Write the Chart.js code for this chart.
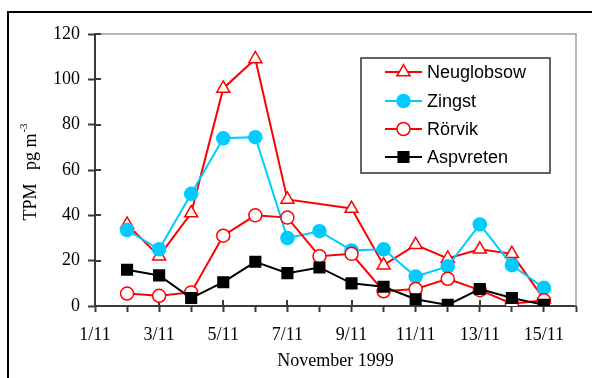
<!DOCTYPE html>
<html>
<head>
<meta charset="utf-8">
<script src="https://cdn.jsdelivr.net/npm/chart.js@4.4.1/dist/chart.umd.min.js"></script>
<style>
  html, body { margin: 0; padding: 0; background: #fff; overflow: hidden; }
  #wrap { position: relative; width: 592px; height: 378px; }
  #frame { position: absolute; left: 7px; top: 11px; width: 700px; height: 500px; border: 2px solid #000; box-sizing: border-box; }
  #c { position: absolute; left: 0; top: 0; }
</style>
</head>
<body>
<div id="wrap">
  <div id="frame"></div>
  <canvas id="c" width="592" height="378"></canvas>
</div>
<script>
// Sampling days (November 1999)
const days = [2, 3, 4, 5, 6, 7, 8, 9, 10, 11, 12, 13, 14, 15];

// TPM concentrations, pg m-3 (null = no sample)
const neuglobsow = [36, 22, 41, 96, 109, 47, null, 43, 18, 27, 21, 25, 23, 3];
const zingst     = [33.5, 25, 49.5, 74, 74.5, 30, 33, 24.5, 25, 13, 17.5, 36, 18, 8];
const rorvik     = [5.5, 4.5, 6, 31, 40, 39, 22, 23, 6.5, 7.5, 12, 7, 1, 2.5];
const aspvreten  = [16, 13.5, 3.5, 10.5, 19.5, 14.5, 17, 10, 8.5, 3, 0.5, 7.5, 3.5, 0.5];

const seriesNames = ['Neuglobsow', 'Zingst', 'R\u00f6rvik', 'Aspvreten'];

// Axis ranges / tick labels
const xMin = 1, xMax = 16;
const yMin = 0, yMax = 120, yStep = 20;
const xTickLabel = v => (v % 2 === 1 && v <= 15) ? v + '/11' : '';
const xTitle = 'November 1999';
const yTitleMain = 'TPM   pg m';
const yTitleSup = '-3';

const RED = '#ff0000', CYAN = '#00ccff', BLACK = '#000000';
const AXIS = '#3a3a3a';
const SERIF = '"Liberation Serif", "Times New Roman", serif';
const SANS = '"Liberation Sans", Arial, sans-serif';

const toPoints = vals => days.map((d, i) => ({ x: d, y: vals[i] }));

const datasets = [
  { label: seriesNames[0], data: toPoints(neuglobsow), borderColor: RED, backgroundColor: '#fff',
    pointStyle: 'triangle', pointRadius: 7.5, pointBorderColor: RED, pointBackgroundColor: '#fff', order: 4 },
  { label: seriesNames[1], data: toPoints(zingst), borderColor: CYAN, backgroundColor: CYAN,
    pointStyle: 'circle', pointRadius: 6.5, pointBorderColor: CYAN, pointBackgroundColor: CYAN, order: 3 },
  { label: seriesNames[2], data: toPoints(rorvik), borderColor: RED, backgroundColor: '#fff',
    pointStyle: 'circle', pointRadius: 6.5, pointBorderColor: RED, pointBackgroundColor: '#fff', order: 2 },
  { label: seriesNames[3], data: toPoints(aspvreten), borderColor: BLACK, backgroundColor: BLACK,
    pointStyle: 'rect', pointRadius: 7.5, pointBorderColor: BLACK, pointBackgroundColor: BLACK, order: 1 }
].map(ds => Object.assign({ borderWidth: 2, pointBorderWidth: 1.5, spanGaps: true, tension: 0, fill: false }, ds));

// Gray plot-area border on top and right, plus tick marks reaching into the plot
const framePlugin = {
  id: 'frameTicks',
  beforeDatasetsDraw(chart) {
    const { ctx, chartArea: a, scales } = chart;
    ctx.save();
    ctx.strokeStyle = '#a0a0a0';
    ctx.lineWidth = 1.5;
    ctx.beginPath();
    ctx.moveTo(a.left, a.top); ctx.lineTo(a.right, a.top); ctx.lineTo(a.right, a.bottom);
    ctx.stroke();
    ctx.strokeStyle = AXIS;
    ctx.lineWidth = 2;
    ctx.beginPath();
    for (let v = yMin; v <= yMax; v += yStep) {
      const y = Math.round(scales.y.getPixelForValue(v));
      ctx.moveTo(a.left, y); ctx.lineTo(a.left + 6, y);
    }
    for (let v = xMin; v <= 15; v += 2) {
      const x = Math.round(scales.x.getPixelForValue(v));
      ctx.moveTo(x, a.bottom); ctx.lineTo(x, a.bottom - 6);
    }
    ctx.stroke();
    ctx.restore();
  }
};

// Rotated y-axis title with superscript exponent
const yTitlePlugin = {
  id: 'yTitle',
  afterDraw(chart) {
    const { ctx, chartArea: a } = chart;
    ctx.save();
    const mainFont = '18px ' + SERIF, supFont = '11px ' + SERIF;
    ctx.font = mainFont;
    const wMain = ctx.measureText(yTitleMain).width;
    ctx.font = supFont;
    const wSup = ctx.measureText(yTitleSup).width;
    const total = wMain + 1 + wSup;
    const cy = (a.top + a.bottom) / 2 + 2;
    ctx.translate(36, cy + total / 2);
    ctx.rotate(-Math.PI / 2);
    ctx.fillStyle = '#000';
    ctx.textBaseline = 'alphabetic';
    ctx.textAlign = 'left';
    ctx.font = mainFont;
    ctx.fillText(yTitleMain, 0, 0);
    ctx.font = supFont;
    ctx.fillText(yTitleSup, wMain + 1, -9);
    ctx.restore();
  }
};

function drawMarker(ctx, style, r, x, y) {
  if (style === 'triangle') {
    ctx.moveTo(x, y - r);
    ctx.lineTo(x + Math.sin(2 * Math.PI / 3) * r, y + r / 2);
    ctx.lineTo(x - Math.sin(2 * Math.PI / 3) * r, y + r / 2);
    ctx.closePath();
  } else if (style === 'rect') {
    const s = Math.SQRT1_2 * r;
    ctx.rect(x - s, y - s, 2 * s, 2 * s);
  } else {
    ctx.arc(x, y, r, 0, Math.PI * 2);
  }
}

// Legend box inside the plot: line sample with marker, then the series name
const legendPlugin = {
  id: 'boxLegend',
  afterDraw(chart) {
    const { ctx } = chart;
    const box = { x: 361, y: 58, w: 189, h: 115 };
    const rows = [72, 101, 129, 157];
    ctx.save();
    ctx.fillStyle = '#fff';
    ctx.fillRect(box.x, box.y, box.w, box.h);
    ctx.strokeStyle = '#333';
    ctx.lineWidth = 1.5;
    ctx.strokeRect(box.x, box.y, box.w, box.h);
    chart.data.datasets.forEach((ds, i) => {
      const y = rows[i];
      ctx.strokeStyle = ds.borderColor;
      ctx.lineWidth = 2;
      ctx.beginPath();
      ctx.moveTo(385, y); ctx.lineTo(422, y);
      ctx.stroke();
      ctx.fillStyle = ds.pointBackgroundColor;
      ctx.strokeStyle = ds.pointBorderColor;
      ctx.lineWidth = ds.pointBorderWidth;
      ctx.beginPath();
      drawMarker(ctx, ds.pointStyle, ds.pointRadius, 403.5, y);
      ctx.fill(); ctx.stroke();
      ctx.fillStyle = '#000';
      ctx.font = '18px ' + SANS;
      ctx.textBaseline = 'middle';
      ctx.textAlign = 'left';
      ctx.fillText(ds.label, 427, y + 1);
    });
    ctx.restore();
  }
};

new Chart(document.getElementById('c'), {
  type: 'line',
  data: { datasets },
  options: {
    responsive: false,
    devicePixelRatio: 1,
    animation: false,
    events: [],
    layout: { padding: { top: 34, right: 16, left: 0, bottom: 0 } },
    plugins: { legend: { display: false }, tooltip: { enabled: false } },
    scales: {
      x: {
        type: 'linear', min: xMin, max: xMax,
        afterFit: s => { s.height = 72; },
        afterBuildTicks: s => { s.ticks = []; for (let v = xMin; v <= xMax; v++) s.ticks.push({ value: v }); },
        ticks: { autoSkip: false, maxRotation: 0, padding: 12, color: '#000',
                 font: { family: SERIF, size: 18 }, callback: v => xTickLabel(v) },
        grid: { drawOnChartArea: false, tickLength: 6, tickColor: AXIS, tickWidth: 2 },
        border: { color: AXIS, width: 2 },
        title: { display: true, text: xTitle, color: '#000', font: { family: SERIF, size: 18 }, padding: { top: 4, bottom: 6 } }
      },
      y: {
        min: yMin, max: yMax,
        afterFit: s => { s.width = 95; },
        ticks: { stepSize: yStep, padding: 8, color: '#000', font: { family: SERIF, size: 18 } },
        grid: { drawOnChartArea: false, tickLength: 7, tickColor: AXIS, tickWidth: 2 },
        border: { color: AXIS, width: 2 }
      }
    }
  },
  plugins: [framePlugin, yTitlePlugin, legendPlugin]
});
</script>
</body>
</html>
